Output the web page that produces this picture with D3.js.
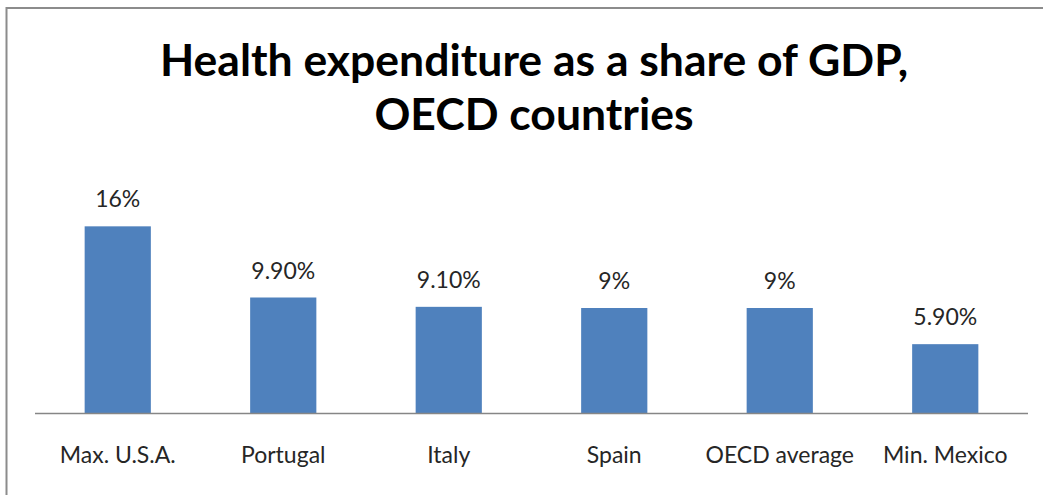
<!DOCTYPE html>
<html><head><meta charset="utf-8">
<script src="https://cdn.jsdelivr.net/npm/d3@7"></script>
<style>body{margin:0;background:#fff}svg{display:block}</style>
</head><body>
<script>
const categories = ["Max. U.S.A.", "Portugal", "Italy", "Spain", "OECD average", "Min. Mexico"];
const values = [16, 9.9, 9.1, 9, 9, 5.9];
const valueLabels = ["16%", "9.90%", "9.10%", "9%", "9%", "5.90%"];
const titleLines = ["Health expenditure as a share of GDP,", "OECD countries"];

const W = 1043, H = 495;
const svg = d3.select("body").append("svg").attr("width", W).attr("height", H);
svg.append("rect").attr("x", 6.5).attr("y", 8).attr("width", W + 10).attr("height", H + 10)
  .attr("fill", "#fff").attr("stroke", "#8c8c8c").attr("stroke-width", 2);

const font = "Lato, 'Open Sans', sans-serif";
svg.append("g").selectAll("text").data(titleLines).join("text")
  .attr("x", 534).attr("y", (d, i) => 76 + i * 54)
  .attr("text-anchor", "middle").attr("font-family", font).attr("font-weight", "bold")
  .attr("font-size", 44.5).attr("fill", "#000").text(d => d);

const x = d3.scaleBand().domain(categories).range([35, 1028]).paddingInner(0.6).paddingOuter(0.3);
const y = d3.scaleLinear().domain([0, 18]).range([413, 203]);

svg.append("g").selectAll("rect").data(values).join("rect")
  .attr("x", (d, i) => x(categories[i])).attr("width", x.bandwidth())
  .attr("y", d => y(d)).attr("height", d => y(0) - y(d)).attr("fill", "#4f81bd");

const axis = svg.append("g").attr("transform", `translate(0,${y(0)})`)
  .call(d3.axisBottom(x).tickSize(0).tickPadding(33.5).tickSizeOuter(0));
axis.select(".domain").attr("stroke", "#868686").attr("stroke-width", 1.3).attr("d", "M35,0.5H1028");
axis.selectAll("text").attr("font-family", font).attr("font-size", 23).attr("fill", "#262626");

svg.append("g").selectAll("text").data(values).join("text")
  .attr("x", (d, i) => x(categories[i]) + x.bandwidth() / 2).attr("y", d => y(d) - 19)
  .attr("text-anchor", "middle").attr("font-family", font).attr("font-size", 23).attr("fill", "#262626")
  .text((d, i) => valueLabels[i]);
</script>
</body></html>
